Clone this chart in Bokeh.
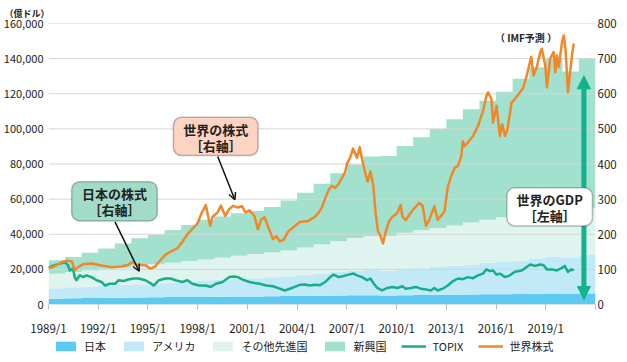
import numpy as np
from bokeh.plotting import figure
from bokeh.layouts import column
from bokeh.models import (Range1d, LinearAxis, FixedTicker, NumeralTickFormatter, Legend,
                          LegendItem, BoxAnnotation, Label, Arrow, OpenHead, NormalHead)
from bokeh.embed import file_html
from bokeh.resources import INLINE

# ---------------- data ----------------
years = list(range(1989, 2022))
japan = [3300, 3500, 3700, 3800, 3900, 4000, 4100, 4200, 4300, 4300, 4400, 4500, 4600, 4700, 4800,
         4900, 5000, 5100, 5200, 5200, 5100, 5300, 5400, 5500, 5600, 5700, 5800, 5900, 6000, 6100,
         6200, 6000, 6300]
usa = [6000, 6300, 6500, 6900, 7200, 7600, 7900, 8300, 8700, 9100, 9600, 10100, 10400, 10800, 11300,
       12000, 12700, 13400, 14000, 14400, 14300, 14800, 15300, 15900, 16400, 17100, 17800, 18300,
       19100, 20200, 21100, 20800, 22000]
other_adv = [8200, 8700, 9200, 9600, 10000, 10400, 10900, 11300, 11800, 12200, 12600, 13200, 13700,
             14100, 14700, 15600, 16500, 17500, 18600, 19400, 19600, 20700, 21600, 22200, 23000,
             23900, 24700, 25500, 26300, 26800, 27000, 25800, 26700]
emerging = [7700, 8600, 10100, 11600, 13700, 15700, 16700, 18600, 20500, 22600, 23500, 24200, 24500,
            25900, 28400, 31200, 34500, 38800, 41900, 45300, 45500, 49400, 53000, 56400, 60500,
            64500, 67700, 71500, 77100, 82000, 86000, 80100, 85300]

world_t = [1989.00, 1989.26, 1989.57, 1989.87, 1990.17, 1990.42, 1990.58, 1990.78, 1991.09, 1991.60,
           1992.21, 1992.81, 1993.42, 1993.82, 1994.03, 1994.33, 1994.84, 1995.14, 1995.44, 1995.65,
           1996.06, 1996.46, 1996.77, 1997.07, 1997.38, 1997.68, 1997.98, 1998.25, 1998.49, 1998.75,
           1998.90, 1999.20, 1999.40, 1999.66, 1999.91, 2000.15, 2000.42, 2000.68, 2000.88, 2001.12,
           2001.43, 2001.63, 2001.83, 2002.04, 2002.34, 2002.55, 2002.75, 2002.95, 2003.19, 2003.46,
           2003.76, 2004.16, 2004.68, 2005.08, 2005.28, 2005.48, 2005.68, 2005.89, 2006.09, 2006.29,
           2006.50, 2006.70, 2006.90, 2007.00, 2007.21, 2007.37, 2007.61, 2007.78, 2007.92, 2008.12,
           2008.26, 2008.42, 2008.59, 2008.73, 2008.87, 2009.03, 2009.18, 2009.33, 2009.54, 2009.74,
           2009.94, 2010.05, 2010.25, 2010.35, 2010.55, 2010.76, 2011.06, 2011.37, 2011.57, 2011.77,
           2011.97, 2012.28, 2012.48, 2012.89, 2013.09, 2013.29, 2013.50, 2013.70, 2013.90, 2014.00,
           2014.10, 2014.30, 2014.61, 2014.91, 2015.08, 2015.22, 2015.42, 2015.52, 2015.72, 2015.82,
           2016.03, 2016.23, 2016.37, 2016.54, 2016.69, 2016.94, 2017.14, 2017.45, 2017.65, 2017.85,
           2017.95, 2018.12, 2018.26, 2018.46, 2018.67, 2018.76, 2018.97, 2019.07, 2019.27, 2019.47,
           2019.58, 2019.67, 2019.78, 2019.98, 2020.08, 2020.19, 2020.34, 2020.49, 2020.59, 2020.69]
world_v = [103, 106, 115, 122, 125, 122, 98, 106, 115, 117,
           111, 106, 108, 113, 121, 113, 112, 102, 108, 121,
           142, 153, 160, 178, 200, 215, 230, 262, 283, 224,
           250, 262, 282, 252, 272, 281, 276, 280, 262, 268,
           252, 214, 242, 248, 210, 186, 195, 180, 184, 208,
           219, 235, 238, 250, 260, 275, 300, 325, 338, 332,
           343, 360, 378, 400, 420, 444, 418, 448, 413, 372,
           350, 379, 340, 262, 210, 195, 174, 205, 236, 250,
           256, 262, 284, 250, 240, 255, 274, 289, 281, 224,
           241, 280, 241, 265, 335, 365, 389, 394, 422, 465,
           451, 461, 480, 508, 532, 551, 594, 604, 585, 518,
           566, 480, 513, 480, 499, 575, 585, 604, 618, 652,
           671, 705, 652, 676, 719, 728, 680, 618, 700, 719,
           661, 709, 676, 747, 766, 728, 604, 671, 714, 743]

topix_t = [1989.00, 1989.36, 1989.77, 1989.97, 1990.17, 1990.28, 1990.48, 1990.58, 1990.68, 1990.89,
           1991.09, 1991.29, 1991.60, 1991.90, 1992.21, 1992.41, 1992.71, 1993.01, 1993.22, 1993.52,
           1993.82, 1994.13, 1994.43, 1994.84, 1995.14, 1995.34, 1995.65, 1996.06, 1996.36, 1996.66,
           1997.07, 1997.38, 1997.68, 1998.08, 1998.49, 1998.79, 1999.10, 1999.50, 1999.91, 2000.21,
           2000.42, 2000.72, 2001.12, 2001.43, 2001.73, 2002.14, 2002.55, 2002.95, 2003.25, 2003.56,
           2003.86, 2004.16, 2004.47, 2004.77, 2005.08, 2005.38, 2005.69, 2005.99, 2006.20, 2006.50,
           2006.80, 2007.11, 2007.41, 2007.61, 2007.92, 2008.22, 2008.42, 2008.63, 2008.83, 2009.13,
           2009.44, 2009.74, 2010.05, 2010.35, 2010.55, 2010.86, 2011.16, 2011.46, 2011.77, 2012.07,
           2012.28, 2012.48, 2012.78, 2013.09, 2013.39, 2013.70, 2014.00, 2014.30, 2014.61, 2014.91,
           2015.21, 2015.42, 2015.62, 2015.82, 2016.03, 2016.23, 2016.54, 2016.84, 2017.14, 2017.55,
           2017.85, 2018.06, 2018.36, 2018.67, 2018.87, 2019.07, 2019.37, 2019.67, 2019.98, 2020.14,
           2020.34, 2020.55, 2020.69]
topix_v = [105, 112, 117, 121, 112, 97, 102, 78, 69, 83,
           78, 83, 78, 69, 64, 54, 59, 59, 69, 67,
           71, 74, 74, 69, 61, 54, 69, 74, 74, 69,
           64, 69, 59, 54, 54, 50, 59, 64, 78, 80,
           78, 71, 64, 61, 59, 54, 52, 45, 40, 45,
           50, 56, 57, 54, 56, 55, 64, 78, 85, 78,
           81, 85, 88, 83, 78, 69, 74, 59, 47, 40,
           47, 50, 47, 52, 45, 47, 50, 45, 43, 40,
           47, 40, 45, 54, 66, 74, 72, 78, 75, 83,
           88, 100, 95, 97, 85, 88, 78, 83, 93, 97,
           107, 114, 110, 114, 112, 100, 100, 97, 104, 110,
           93, 100, 97]

x_tick_years = [1989, 1992, 1995, 1998, 2001, 2004, 2007, 2010, 2013, 2016, 2019, 2022]
x_tick_labels = ["1989/1", "1992/1", "1995/1", "1998/1", "2001/1", "2004/1", "2007/1",
                 "2010/1", "2013/1", "2016/1", "2019/1", ""]
left_ticks = [0, 20000, 40000, 60000, 80000, 100000, 120000, 140000, 160000]
right_ticks = [0, 100, 200, 300, 400, 500, 600, 700, 800]
legend_labels = ["日本", "アメリカ", "その他先進国", "新興国", "TOPIX", "世界株式"]

# ---------------- style ----------------
FONT = "Noto Sans CJK JP"
C_JP = "#5ccaf2"
C_US = "#c2e9f8"
C_OA = "#dff4ee"
C_EM = "#a2e1ce"
C_TOPIX = "#17ad89"
C_WORLD = "#f0882a"
C_ARROW = "#12b28b"
C_GRID = "#d4d4d4"
TXT = "#222222"

X0, X1 = 1989, 2022
W, H_MAIN, H_LEG = 619, 338, 16
p = figure(width=W, height=H_MAIN, output_backend="svg", toolbar_location=None,
           x_range=Range1d(X0, X1), y_range=Range1d(0, 160000),
           min_border_left=46, min_border_right=20, min_border_top=22, min_border_bottom=34)
p.extra_y_ranges = {"right": Range1d(0, 800)}
p.outline_line_color = None

# title used as the unit note at top-left
p.title.text = "（億ドル）"
p.title.text_font = FONT
p.title.text_font_size = "9px"
p.title.text_font_style = "bold"
p.title.text_color = TXT
p.title.align = "left"
p.title.offset = -44
p.title.standoff = 8

# stacked annual steps
edges = years + [X1]
def ext(a):
    a = list(a)
    return a + [a[-1]]
c0 = np.zeros(len(years))
c1 = c0 + np.array(japan)
c2 = c1 + np.array(usa)
c3 = c2 + np.array(other_adv)
c4 = c3 + np.array(emerging)
area_colors = [C_JP, C_US, C_OA, C_EM]
for lo, hi, col in zip([c0, c1, c2, c3], [c1, c2, c3, c4], area_colors):
    p.varea_step(x=edges, y1=ext(lo), y2=ext(hi), step_mode="after", fill_color=col)

# horizontal grid drawn above the areas, below the lines
n = len(left_ticks)
p.segment(x0=[X0] * n, x1=[X1] * n, y0=left_ticks, y1=left_ticks,
          line_color=C_GRID, line_width=1)

p.line(topix_t, topix_v, y_range_name="right", line_color=C_TOPIX, line_width=2.5,
       line_join="round")
p.line(world_t, world_v, y_range_name="right", line_color=C_WORLD, line_width=2.5,
       line_join="round")

# axes
p.xaxis.ticker = FixedTicker(ticks=x_tick_years)
p.xaxis.major_label_overrides = {y: l for y, l in zip(x_tick_years, x_tick_labels)}
p.xaxis.axis_line_color = None
p.xaxis.major_tick_in = 0
p.xaxis.major_tick_out = 5
p.xaxis.major_tick_line_color = "#bbbbbb"
p.xaxis.minor_tick_line_color = None
p.xaxis.major_label_standoff = 10
p.xaxis.major_label_text_font = FONT
p.xaxis.major_label_text_font_size = "11.5px"
p.xaxis.major_label_text_color = TXT

p.yaxis.ticker = FixedTicker(ticks=left_ticks)
p.yaxis.formatter = NumeralTickFormatter(format="0,0")
p.yaxis.axis_line_color = None
p.yaxis.major_tick_line_color = None
p.yaxis.minor_tick_line_color = None
p.yaxis.major_label_standoff = 5
p.yaxis.major_label_text_font = FONT
p.yaxis.major_label_text_font_size = "11px"
p.yaxis.major_label_text_color = TXT

ry_axis = LinearAxis(y_range_name="right", ticker=FixedTicker(ticks=right_ticks),
                     axis_line_color=None, major_tick_line_color=None, minor_tick_line_color=None,
                     major_tick_out=0, major_tick_in=0,
                     major_label_standoff=2, major_label_text_font=FONT,
                     major_label_text_font_size="11.5px", major_label_text_color=TXT)
p.add_layout(ry_axis, "right")
p.yaxis[0].major_tick_out = 0
p.yaxis[0].major_tick_in = 0

p.xgrid.grid_line_color = None
p.ygrid.grid_line_color = None

# helpers converting reference-pixel positions of annotations to data coords
def rx(px):
    return X0 + (px - 54) / (597 - 54) * (X1 - X0)
def ry(py):
    return (304 - py) / 279 * 160000

def note_box(l, r, t, b, fill):
    p.add_layout(BoxAnnotation(left=rx(l), right=rx(r), top=ry(t), bottom=ry(b),
                               fill_color=fill, fill_alpha=1, line_color="#222222",
                               line_width=1.5, border_radius=8))

def text(px, py, s, size="13px", bold=True):
    p.add_layout(Label(x=rx(px), y=ry(py), text=s, text_align="center", text_baseline="middle",
                       text_font=FONT, text_font_size=size,
                       text_font_style="bold" if bold else "normal", text_color=TXT))

def pointer(x0, y0, x1, y1):
    p.add_layout(Arrow(end=OpenHead(size=7, line_width=1.5, line_color="#111111"),
                       x_start=rx(x0), y_start=ry(y0), x_end=rx(x1), y_end=ry(y1),
                       line_width=1.5, line_color="#111111"))

# GDP double arrow
p.add_layout(Arrow(start=NormalHead(size=13, fill_color=C_ARROW, line_color=C_ARROW),
                   end=NormalHead(size=13, fill_color=C_ARROW, line_color=C_ARROW),
                   x_start=rx(585.5), y_start=ry(299), x_end=rx(585.5), y_end=ry(77),
                   line_color=C_ARROW, line_width=5))

pointer(222, 157, 239, 200)
pointer(120, 222, 144, 271)

note_box(178, 262, 118, 156, "#fdd4c1")
text(220, 130, "世界の株式")
text(220, 146, "［右軸］")

note_box(77, 162, 182, 221, "#a2dcc9")
text(119.5, 194, "日本の株式")
text(119.5, 210, "［右軸］")

note_box(509, 594, 188, 226, "white")
text(551.5, 200, "世界のGDP")
text(551.5, 216, "［左軸］")

text(528, 39, "（ IMF予測 ）", size="10px")

# ---------------- legend strip (separate small figure, no axes) ----------------
leg = figure(width=W, height=H_LEG, output_backend="svg", toolbar_location=None,
             x_range=Range1d(0, 1), y_range=Range1d(0, 1), min_border=0,
             x_axis_location=None, y_axis_location=None)
leg.grid.visible = False
leg.outline_line_color = None
nan1 = [np.nan]
keys = []
for col in area_colors:
    keys.append(leg.varea(x=nan1, y1=nan1, y2=nan1, fill_color=col))
keys.append(leg.line(x=nan1, y=nan1, line_color=C_TOPIX, line_width=2.5))
keys.append(leg.line(x=nan1, y=nan1, line_color=C_WORLD, line_width=2.5))
legend = Legend(items=[LegendItem(label=lab, renderers=[r]) for lab, r in zip(legend_labels, keys)],
                orientation="horizontal", location=(5, 0),
                label_text_font=FONT, label_text_font_size="11px", label_text_color=TXT,
                glyph_width=25, glyph_height=12, label_height=16, label_standoff=6, spacing=15,
                padding=0, margin=0, border_line_color=None, background_fill_alpha=0)
leg.add_layout(legend)

open("out.html", "w").write(file_html(column(p, leg), INLINE))
